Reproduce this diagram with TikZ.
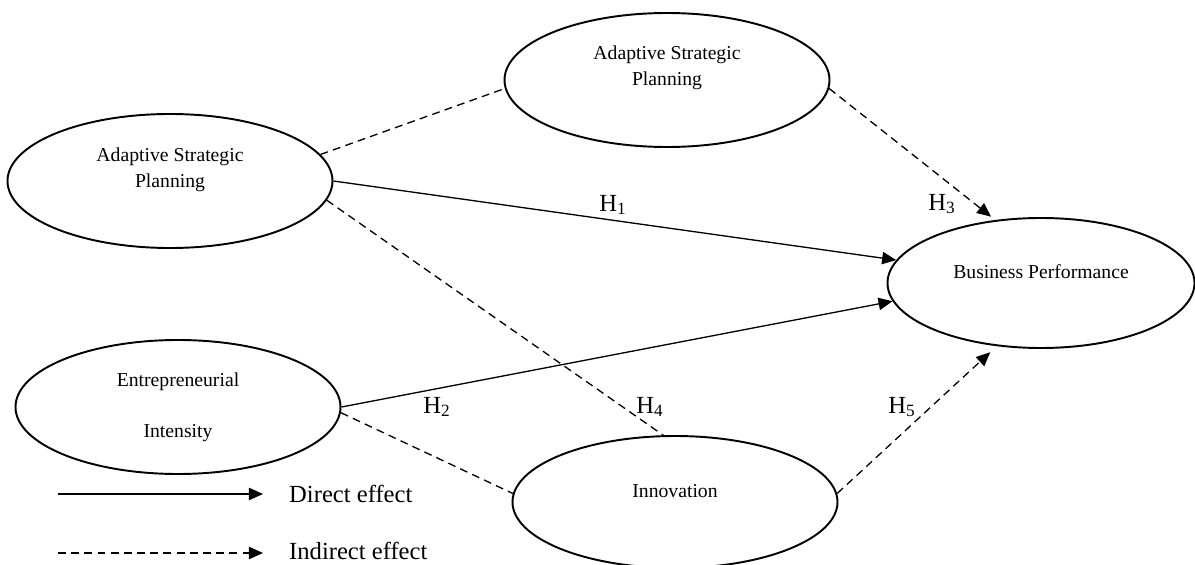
\documentclass[tikz,border=0pt]{standalone}
\usepackage{fontspec}
\setmainfont{Liberation Serif}
\usetikzlibrary{arrows.meta,shapes.geometric}

\begin{document}
\begin{tikzpicture}[
    construct/.style ={ellipse, draw, line width=1.1pt, minimum width=6.5cm, minimum height=2.68cm, inner sep=0pt},
    caption/.style ={align=center, font=\fontsize{11.2}{14.5}\selectfont},
    hyp/.style ={font=\fontsize{14}{17}\selectfont},
    direct/.style ={line width=0.75pt},
    indirect/.style ={line width=0.75pt, dash pattern=on 4.5pt off 3pt},
    tip/.style ={-{Triangle[length=8pt,width=7pt]}}]
   \useasboundingbox (0,0) rectangle (23.9,11.28);
   % constructs
   \node[construct] (A) at (3.40,7.66)  {};
   \node[construct] (T) at (13.34,9.68) {};
   \node[construct] (E) at (3.56,3.14)  {};
   \node[construct, minimum height=2.64cm] (I) at (13.50,1.24) {};
   \node[construct, minimum width=6.14cm, minimum height=2.6cm] (BP) at (20.82,5.62) {};
   \node[caption] (Atxt) at ([yshift=0.22cm]A) {Adaptive Strategic\\Planning};
   \node[caption] (Ttxt) at ([yshift=0.24cm]T) {Adaptive Strategic\\Planning};
   \node[caption] (Etxt) at (E) {Entrepreneurial\\[14.5pt]Intensity};
   \node[caption] (Itxt) at ([yshift=0.22cm]I) {Innovation};
   \node[caption] (BPtxt) at ([yshift=0.22cm]BP) {Business Performance};
   % paths
   \draw[indirect] (A.10.6) to (T.183.5);
   \draw[direct, tip] (A.east) to (BP.171.8);
   \draw[indirect] (A.-7) to (I.100.2);
   \draw[direct, tip] (E.east) to (BP.187.8);
   \draw[indirect] (E.-2.8) to (I.177.5);
   \draw[indirect, tip, shorten >=3pt] (T.-3) to (BP.126);
   \draw[indirect, tip, shorten >=5pt] (I.3.2) to (BP.235.6);
   % hypotheses
   \node[hyp] (H1) at (12.26,7.18) {H\textsubscript{1}};
   \node[hyp] (H2) at (8.74,3.14)  {H\textsubscript{2}};
   \node[hyp] (H3) at (18.84,7.20) {H\textsubscript{3}};
   \node[hyp] (H4) at (13.00,3.14) {H\textsubscript{4}};
   \node[hyp] (H5) at (18.04,3.14) {H\textsubscript{5}};
   % legend
   \coordinate (d1) at (1.16,1.40);
   \coordinate (d2) at (5.26,1.40);
   \coordinate (i1) at (1.16,0.22);
   \coordinate (i2) at (5.26,0.22);
   \draw[direct, tip] (d1) to (d2);
   \draw[indirect, tip] (i1) to (i2);
   \node[hyp, anchor=west] (dlab) at (5.66,1.40) {Direct effect};
   \node[hyp, anchor=west] (ilab) at (5.66,0.26) {Indirect effect};
 \end{tikzpicture}
\end{document}
